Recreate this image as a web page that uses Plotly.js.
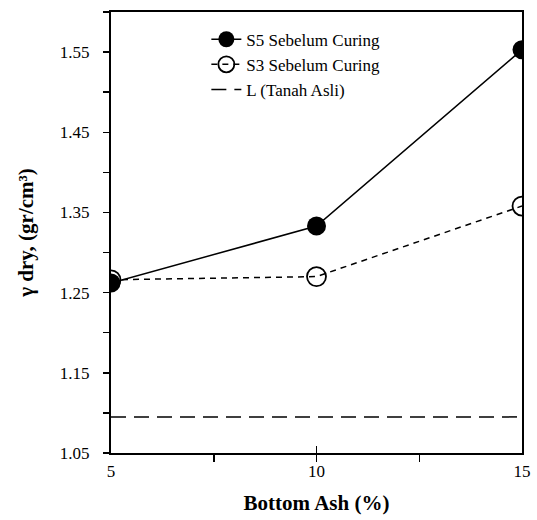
<!DOCTYPE html>
<html>
<head>
<meta charset="utf-8">
<script src="https://cdn.plot.ly/plotly-3.0.1.min.js"></script>
<style>html,body{margin:0;padding:0;background:#fff;}#chart{width:537px;height:520px;}</style>
</head>
<body>
<div id="chart"></div>
<script>
const bottomAsh = [5, 10, 15];
const s5Values = [1.262, 1.333, 1.553];
const s3Values = [1.266, 1.270, 1.358];
const lValue = 1.095;
const lX = [5, 15];
const lValues = [lValue, lValue];
const seriesNames = ['S5 Sebelum Curing', 'S3 Sebelum Curing', 'L (Tanah Asli)'];
const yTickVals = [1.05, 1.15, 1.25, 1.35, 1.45, 1.55];
const yTickText = ['1.05', '1.15', '1.25', '1.35', '1.45', '1.55'];
const xTickVals = [5, 10, 15];

const font = '"Times New Roman", "Liberation Serif", serif';

const traces = [
  {
    x: bottomAsh, y: s5Values, name: seriesNames[0], type: 'scatter', mode: 'lines+markers',
    line: {color: '#000', width: 1.5},
    marker: {symbol: 'circle', size: 19, color: '#000'}
  },
  {
    x: bottomAsh, y: s3Values, name: seriesNames[1], type: 'scatter', mode: 'lines+markers',
    line: {color: '#000', width: 1.5, dash: '6px,5px'},
    marker: {symbol: 'circle-open', size: 19, color: '#000', line: {width: 1.8, color: '#000'}}
  },
  {
    x: lX, y: lValues, name: seriesNames[2], type: 'scatter', mode: 'lines',
    line: {color: '#000', width: 1.5, dash: '15px,8px'}
  }
];

const layout = {
  width: 537, height: 520,
  margin: {l: 111, r: 15, t: 12, b: 67},
  paper_bgcolor: '#fff', plot_bgcolor: '#fff',
  font: {family: font, size: 17, color: '#000'},
  showlegend: true,
  legend: {
    x: 0.232, y: 0.978, xanchor: 'left', yanchor: 'top',
    bgcolor: 'rgba(0,0,0,0)', font: {family: font, size: 17, color: '#000'},
    tracegroupgap: 0
  },
  xaxis: {
    range: [5, 15], tickvals: xTickVals, ticktext: ['5', '10', '15'],
    ticks: 'inside', ticklen: 7, tickwidth: 1.5, tickcolor: '#000',
    minor: {dtick: 2.5, ticks: 'outside', ticklen: 7, tickwidth: 1.5, tickcolor: '#000', showgrid: false},
    showline: true, linecolor: '#000', linewidth: 2, mirror: true,
    showgrid: false, zeroline: false, ticklabelstandoff: 2,
    tickfont: {family: font, size: 17, color: '#000'},
    title: {text: '<b>Bottom Ash (%)</b>', font: {family: font, size: 21, color: '#000'}, standoff: 15},
    automargin: false
  },
  yaxis: {
    range: [1.05, 1.6], tickvals: yTickVals, ticktext: yTickText,
    ticks: 'outside', ticklen: 6, tickwidth: 1.5, tickcolor: '#000',
    minor: {tickvals: [1.10, 1.20, 1.30, 1.40, 1.50, 1.60], ticks: 'outside', ticklen: 6, tickwidth: 1.5, tickcolor: '#000', showgrid: false},
    showline: true, linecolor: '#000', linewidth: 2, mirror: true,
    showgrid: false, zeroline: false, ticklabelstandoff: 10,
    tickfont: {family: font, size: 17, color: '#000'},
    title: {text: '<b>γ dry, (gr/cm³)</b>', font: {family: font, size: 21, color: '#000'}, standoff: 20},
    automargin: false
  }
};

Plotly.newPlot('chart', traces, layout, {displayModeBar: false, staticPlot: true});
</script>
</body>
</html>
